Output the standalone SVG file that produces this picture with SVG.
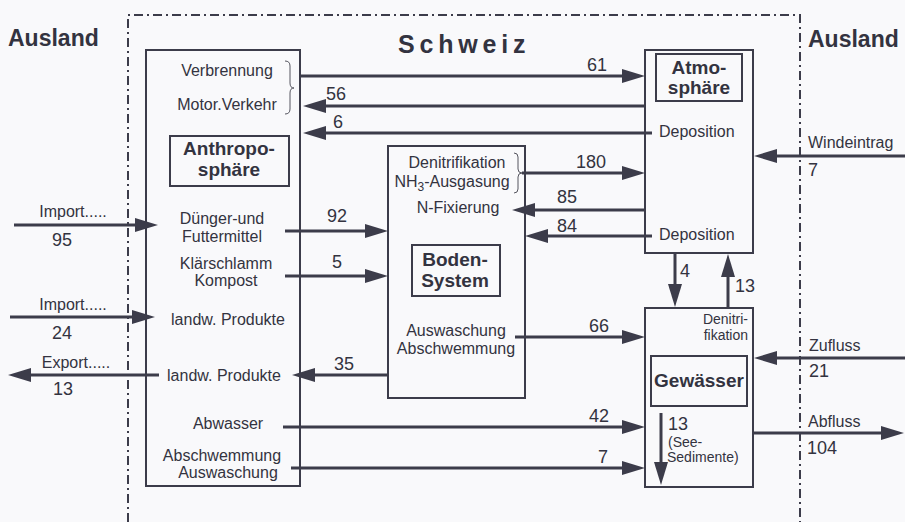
<svg xmlns="http://www.w3.org/2000/svg" width="905" height="522" viewBox="0 0 905 522">
<defs>
<marker id="ah" markerUnits="userSpaceOnUse" markerWidth="24" markerHeight="16" refX="15" refY="7" orient="auto"><path d="M0,0 L23,7 L0,14 z" fill="#3c3c4a"/></marker>
<style>
text{font-family:"Liberation Sans",Arial,sans-serif;fill:#333340}
.l{font-size:16px}
.s{font-size:14px}
.n{font-size:18px}
.b{font-weight:bold;font-size:19px}
.m{text-anchor:middle}
.e{text-anchor:end}
.box{fill:none;stroke:#3c3c4a;stroke-width:2}
.fl{fill:none;stroke:#3c3c4a;stroke-width:3;marker-end:url(#ah)}
.br{fill:none;stroke:#55555f;stroke-width:1}
.dd{fill:none;stroke:#3c3c4a;stroke-width:2;stroke-dasharray:9 4 2 4}
</style>
</defs>
<rect width="905" height="522" fill="#f9f9fb"/>
<g id="border">
<path class="dd" d="M128,522 V15 H800 V522"/>
<text x="8" y="46" class="b" style="font-size:23px">Ausland</text>
<text x="808" y="47" class="b" style="font-size:23px">Ausland</text>
<text x="398" y="53" class="b" style="font-size:25px;letter-spacing:4.8px">Schweiz</text>
</g>
<g id="anthroposphaere">
<rect class="box" x="146" y="50" width="154" height="436"/>
<rect class="box" x="170" y="136" width="119" height="50"/>
<text x="229" y="155" class="b m">Anthropo-</text>
<text x="229" y="176" class="b m">sphäre</text>
<text x="227" y="76" class="l m">Verbrennung</text>
<text x="227" y="110" class="l m">Motor.Verkehr</text>
<path class="br" d="M285,61 Q290,61 290,66 L290,83 Q290,88 294,88 Q290,88 290,93 L290,109 Q290,114 285,114"/>
<text x="222" y="224" class="l m">Dünger-und</text>
<text x="222" y="242" class="l m">Futtermittel</text>
<text x="226" y="269" class="l m">Klärschlamm</text>
<text x="226" y="286" class="l m">Kompost</text>
<text x="228" y="325" class="l m">landw. Produkte</text>
<text x="224" y="381" class="l m">landw. Produkte</text>
<text x="228" y="429" class="l m">Abwasser</text>
<text x="222" y="461" class="l m">Abschwemmung</text>
<text x="228" y="478" class="l m">Auswaschung</text>
</g>
<g id="boden">
<rect class="box" x="388" y="146" width="137" height="252"/>
<rect class="box" x="412" y="245" width="88" height="51"/>
<text x="455" y="266" class="b m">Boden-</text>
<text x="455" y="287" class="b m">System</text>
<text x="457" y="168" class="l m">Denitrifikation</text>
<text x="452" y="187" class="l m">NH<tspan font-size="12" dy="4">3</tspan><tspan dy="-4">-Ausgasung</tspan></text>
<path class="br" d="M514,153 Q518,153 518,157 L518,169 Q518,173 522,173 Q518,173 518,177 L518,189 Q518,193 514,193"/>
<text x="458" y="213" class="l m">N-Fixierung</text>
<text x="456" y="336" class="l m">Auswaschung</text>
<text x="456" y="354" class="l m">Abschwemmung</text>
</g>
<g id="atmosphaere">
<rect class="box" x="645" y="50" width="108" height="203"/>
<rect class="box" x="656" y="54" width="86" height="47"/>
<text x="699" y="74" class="b m">Atmo-</text>
<text x="699" y="94" class="b m">sphäre</text>
<text x="659" y="137" class="l">Deposition</text>
<text x="659" y="240" class="l">Deposition</text>
</g>
<g id="gewaesser">
<rect class="box" x="645" y="308" width="108" height="179"/>
<rect class="box" x="651" y="356" width="96" height="50"/>
<text x="699" y="387" class="b m">Gewässer</text>
<text x="748" y="324" class="s e">Denitri-</text>
<text x="748" y="340" class="s e">fikation</text>
<text x="668" y="430" class="n">13</text>
<text x="668" y="447" class="s">(See-</text>
<text x="667" y="462" class="s">Sedimente)</text>
</g>
<g id="connectors">
<path class="fl" d="M300,76 H637"/>
<path class="fl" d="M645,106 H311"/>
<path class="fl" d="M652,133 H311"/>
<path class="fl" d="M522,173 H637"/>
<path class="fl" d="M645,210 H520"/>
<path class="fl" d="M652,236 H533"/>
<path class="fl" d="M285,231 H380"/>
<path class="fl" d="M285,276 H380"/>
<path class="fl" d="M515,337 H637"/>
<path class="fl" d="M388,375 H300"/>
<path class="fl" d="M283,427 H637"/>
<path class="fl" d="M291,468 H637"/>
<path class="fl" d="M14,225 H150"/>
<path class="fl" d="M10,317 H147"/>
<path class="fl" d="M159,375 H16"/>
<path class="fl" d="M905,156 H762"/>
<path class="fl" d="M905,358 H762"/>
<path class="fl" d="M753,433 H896"/>
<path class="fl" d="M675,253 V299"/>
<path class="fl" d="M728,308 V262"/>
<path class="fl" d="M661,413 V477"/>
<text x="597" y="71" class="n m">61</text>
<text x="336" y="100" class="n m">56</text>
<text x="338" y="128" class="n m">6</text>
<text x="591" y="168" class="n m">180</text>
<text x="567" y="203" class="n m">85</text>
<text x="567" y="232" class="n m">84</text>
<text x="337" y="222" class="n m">92</text>
<text x="337" y="268" class="n m">5</text>
<text x="599" y="332" class="n m">66</text>
<text x="344" y="370" class="n m">35</text>
<text x="599" y="422" class="n m">42</text>
<text x="603" y="463" class="n m">7</text>
<text x="680" y="277" class="n">4</text>
<text x="735" y="292" class="n">13</text>
<text x="73" y="217" class="l m">Import.....</text>
<text x="62" y="246" class="n m">95</text>
<text x="73" y="310" class="l m">Import.....</text>
<text x="62" y="339" class="n m">24</text>
<text x="76" y="368" class="l m">Export.....</text>
<text x="63" y="395" class="n m">13</text>
<text x="808" y="148" class="l">Windeintrag</text>
<text x="808" y="176" class="n">7</text>
<text x="809" y="351" class="l">Zufluss</text>
<text x="809" y="377" class="n">21</text>
<text x="808" y="427" class="l">Abfluss</text>
<text x="807" y="454" class="n">104</text>
</g>
</svg>
